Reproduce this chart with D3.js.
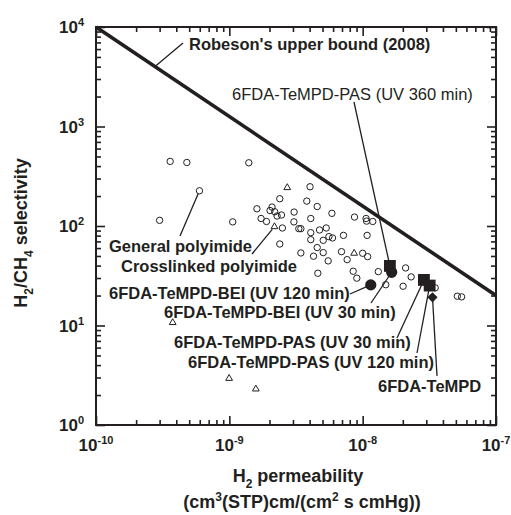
<!DOCTYPE html>
<html>
<head>
<meta charset="utf-8">
<script src="https://cdn.jsdelivr.net/npm/d3@7"></script>
<style>
  body { margin: 0; background: #fff; }
  text { font-family: "Liberation Sans", Arial, Helvetica, sans-serif; fill: #231f20; }
</style>
</head>
<body>
<div id="chart"></div>
<script>
// ---- data ----
// general polyimides (open circles)
var generalP = [3.6e-10, 4.8e-10, 1.40e-9, 5.97e-10, 3.0e-10, 1.06e-9, 1.61e-9, 1.73e-9, 1.90e-9, 2.02e-9,
  2.09e-9, 2.19e-9, 2.28e-9, 2.39e-9, 2.46e-9, 2.50e-9, 2.39e-9, 3.06e-9, 3.05e-9, 3.32e-9,
  3.44e-9, 4.03e-9, 3.81e-9, 4.08e-9, 4.08e-9, 4.08e-9, 4.56e-9, 4.75e-9, 4.56e-9, 4.28e-9,
  5.06e-9, 5.33e-9, 5.58e-9, 5.94e-9, 5.06e-9, 5.51e-9, 4.61e-9, 3.44e-9, 5.88e-9, 7.18e-9,
  6.94e-9, 7.65e-9, 8.69e-9, 1.00e-8, 1.09e-8, 1.06e-8, 1.07e-8, 1.19e-8, 1.08e-8, 8.49e-9,
  9.04e-9, 1.31e-8, 1.49e-8, 2.01e-8, 2.10e-8, 2.31e-8, 3.50e-8, 5.13e-8, 5.52e-8];
var generalSel = [446, 435, 432, 226, 114, 110, 149, 119, 111, 143,
  155, 139, 126, 188, 129, 95.5, 65.9, 138, 110, 94,
  94, 248, 178, 119, 85.7, 72.9, 157, 91.2, 60.7, 49.7,
  71.8, 95.5, 78.2, 75.8, 54, 44.6, 33.5, 53.6, 134, 80.5,
  55.2, 45.9, 123, 53.2, 49.2, 119, 112, 111, 80.5, 35.1,
  29.9, 34.8, 25.7, 24.8, 37.9, 30.8, 23.9, 19.7, 19.4];

// crosslinked polyimides (open triangles)
var crossP = [2.72e-9, 2.18e-9, 8.63e-9, 3.76e-10, 9.96e-10, 1.58e-9];
var crossSel = [243, 98.4, 53.2, 10.7, 2.94, 2.30];

// this work (filled symbols)
var sampleNames = ["6FDA-TeMPD-PAS (UV 360 min)", "6FDA-TeMPD-BEI (UV 30 min)", "6FDA-TeMPD-BEI (UV 120 min)",
  "6FDA-TeMPD-PAS (UV 30 min)", "6FDA-TeMPD-PAS (UV 120 min)", "6FDA-TeMPD"];
var sampleP = [1.60e-8, 1.65e-8, 1.15e-8, 2.88e-8, 3.18e-8, 3.34e-8];
var sampleSel = [39.7, 34.3, 25.6, 28.7, 25.2, 19.2];
var sampleShape = ["square", "circle", "circle", "square", "square", "diamond"];

// Robeson 2008 upper bound end points
var robesonP = [1e-10, 1e-7];
var robesonSel = [10000, 20];

var xTickExp = [-10, -9, -8, -7];
var yTickExp = [0, 1, 2, 3, 4];

// ---- layout ----
var width = 511, height = 515;
var padL = 96, padR = 496, padT = 27, padB = 425;
var ink = "#231f20";

var svg = d3.select("#chart").append("svg")
  .attr("width", width)
  .attr("height", height);

var x = d3.scaleLog().domain([1e-10, 1e-7]).range([padL, padR]);
var y = d3.scaleLog().domain([1, 1e4]).range([padB, padT]);

function minors(exps) {
  var out = [];
  for (var i = 0; i < exps.length - 1; i++) {
    for (var k = 2; k <= 9; k++) out.push(+(k + "e" + exps[i]));
  }
  return out;
}
var xMajor = xTickExp.map(function(e) { return +("1e" + e); });
var yMajor = yTickExp.map(function(e) { return +("1e" + e); });

// ticks on all four sides, pointing inward
function ticks(axis, vals, size, transform) {
  var g = svg.append("g")
    .attr("transform", transform)
    .call(axis.tickValues(vals).tickSize(-size).tickFormat(""));
  g.select(".domain").remove();
  g.selectAll("line").attr("stroke", ink).attr("stroke-width", 1.6);
}
ticks(d3.axisBottom(x), xMajor, 9, "translate(0," + padB + ")");
ticks(d3.axisBottom(x), minors(xTickExp), 5, "translate(0," + padB + ")");
ticks(d3.axisTop(x), xMajor, 9, "translate(0," + padT + ")");
ticks(d3.axisTop(x), minors(xTickExp), 5, "translate(0," + padT + ")");
ticks(d3.axisLeft(y), yMajor, 9, "translate(" + padL + ",0)");
ticks(d3.axisLeft(y), minors(yTickExp), 5, "translate(" + padL + ",0)");
ticks(d3.axisRight(y), yMajor, 9, "translate(" + padR + ",0)");
ticks(d3.axisRight(y), minors(yTickExp), 5, "translate(" + padR + ",0)");

svg.append("rect")
  .attr("x", padL).attr("y", padT)
  .attr("width", padR - padL).attr("height", padB - padT)
  .attr("fill", "none").attr("stroke", ink).attr("stroke-width", 2);

// tick labels 10^n
xTickExp.forEach(function(e) {
  var t = svg.append("text")
    .attr("x", x(+("1e" + e))).attr("y", 451)
    .attr("text-anchor", "middle")
    .attr("font-size", 17).attr("font-weight", "bold");
  t.append("tspan").text("10");
  t.append("tspan").attr("font-size", 11).attr("dy", -7).text(e);
});
yTickExp.forEach(function(e) {
  var t = svg.append("text")
    .attr("x", 84).attr("y", y(+("1e" + e)) + 6)
    .attr("text-anchor", "end")
    .attr("font-size", 17).attr("font-weight", "bold");
  t.append("tspan").text("10");
  t.append("tspan").attr("font-size", 11).attr("dy", -7).text(e);
});

// axis titles
var yt = svg.append("text")
  .attr("transform", "translate(27,233) rotate(-90)")
  .attr("text-anchor", "middle")
  .attr("font-size", 18).attr("font-weight", "bold");
yt.append("tspan").text("H");
yt.append("tspan").attr("font-size", 12).attr("dy", 6).text("2");
yt.append("tspan").attr("dy", -6).text("/CH");
yt.append("tspan").attr("font-size", 12).attr("dy", 6).text("4");
yt.append("tspan").attr("dy", -6).text(" selectivity");

var xt = svg.append("text")
  .attr("x", 298).attr("y", 482)
  .attr("text-anchor", "middle")
  .attr("font-size", 18).attr("font-weight", "bold");
xt.append("tspan").text("H");
xt.append("tspan").attr("font-size", 12).attr("dy", 6).text("2");
xt.append("tspan").attr("dy", -6).text(" permeability");

var xt2 = svg.append("text")
  .attr("x", 302).attr("y", 508)
  .attr("text-anchor", "middle")
  .attr("font-size", 18).attr("font-weight", "bold");
xt2.append("tspan").text("(cm");
xt2.append("tspan").attr("font-size", 12).attr("dy", -7).text("3");
xt2.append("tspan").attr("dy", 7).text("(STP)cm/(cm");
xt2.append("tspan").attr("font-size", 12).attr("dy", -7).text("2");
xt2.append("tspan").attr("dy", 7).text(" s cmHg))");

// Robeson upper bound
var plot = svg.append("g");
plot.append("line")
  .attr("x1", x(robesonP[0])).attr("y1", y(robesonSel[0]))
  .attr("x2", x(robesonP[1])).attr("y2", y(robesonSel[1]))
  .attr("stroke", ink).attr("stroke-width", 3.6);

// annotations: label position (px) + leader start (px) + target point
function robesonAt(p) {
  var t = (Math.log10(p) - Math.log10(robesonP[0])) / (Math.log10(robesonP[1]) - Math.log10(robesonP[0]));
  return Math.pow(10, Math.log10(robesonSel[0]) + t * (Math.log10(robesonSel[1]) - Math.log10(robesonSel[0])));
}
var notes = [
  {text: "Robeson's upper bound (2008)", bold: true, tx: 189, ty: 50, lx: 183, ly: 43, p: 2.77e-10, s: robesonAt(2.77e-10), gap: 0},
  {text: sampleNames[0], bold: false, tx: 232, ty: 100, lx: 354, ly: 102, p: sampleP[0], s: sampleSel[0], gap: 0},
  {text: "General polyimide", bold: true, tx: 109, ty: 252, lx: 180, ly: 236, p: generalP[3], s: generalSel[3], gap: 3.5},
  {text: "Crosslinked polyimide", bold: true, tx: 121, ty: 272, lx: 252, ly: 254, p: crossP[1], s: crossSel[1], gap: 3.5},
  {text: sampleNames[2], bold: true, tx: 109, ty: 299, lx: 350, ly: 294, p: sampleP[2], s: sampleSel[2], gap: 0},
  {text: sampleNames[1], bold: true, tx: 164, ty: 318, lx: 371, ly: 303, p: sampleP[1], s: sampleSel[1], gap: 0},
  {text: sampleNames[3], bold: true, tx: 174, ty: 348, lx: 397, ly: 338, p: sampleP[3], s: sampleSel[3], gap: 0},
  {text: sampleNames[4], bold: true, tx: 188, ty: 368, lx: 417, ly: 353, p: sampleP[4], s: sampleSel[4], gap: 0},
  {text: sampleNames[5], bold: true, tx: 378, ty: 392, lx: 437, ly: 376, p: sampleP[5], s: sampleSel[5], gap: 0}
];

notes.forEach(function(n) {
  var ex = x(n.p), ey = y(n.s);
  var dx = ex - n.lx, dy = ey - n.ly, len = Math.sqrt(dx * dx + dy * dy);
  plot.append("line")
    .attr("x1", n.lx).attr("y1", n.ly)
    .attr("x2", ex - dx / len * n.gap).attr("y2", ey - dy / len * n.gap)
    .attr("stroke", ink).attr("stroke-width", 1.3);
  svg.append("text")
    .attr("x", n.tx).attr("y", n.ty)
    .attr("font-size", 16.5)
    .attr("font-weight", n.bold ? "bold" : "normal")
    .text(n.text);
});

// open circles
plot.selectAll(".gen")
  .data(d3.zip(generalP, generalSel))
  .enter().append("circle")
  .attr("class", "gen")
  .attr("cx", function(d) { return x(d[0]); })
  .attr("cy", function(d) { return y(d[1]); })
  .attr("r", 3.2)
  .attr("fill", "none").attr("stroke", ink).attr("stroke-width", 1);

// open triangles
plot.selectAll(".cross")
  .data(d3.zip(crossP, crossSel))
  .enter().append("path")
  .attr("class", "cross")
  .attr("d", d3.symbol().type(d3.symbolTriangle).size(20))
  .attr("transform", function(d) { return "translate(" + x(d[0]) + "," + y(d[1]) + ")"; })
  .attr("fill", "none").attr("stroke", ink).attr("stroke-width", 1);

// filled symbols
var shapes = {
  square: d3.symbol().type(d3.symbolSquare).size(140)(),
  circle: d3.symbol().type(d3.symbolCircle).size(100)(),
  diamond: d3.symbol().type(d3.symbolSquare).size(52)()
};
plot.selectAll(".sample")
  .data(d3.range(sampleP.length))
  .enter().append("path")
  .attr("class", "sample")
  .attr("d", function(i) { return shapes[sampleShape[i]]; })
  .attr("transform", function(i) {
    return "translate(" + x(sampleP[i]) + "," + y(sampleSel[i]) + ")" + (sampleShape[i] == "diamond" ? " rotate(45)" : "");
  })
  .attr("fill", ink);
</script>
</body>
</html>
